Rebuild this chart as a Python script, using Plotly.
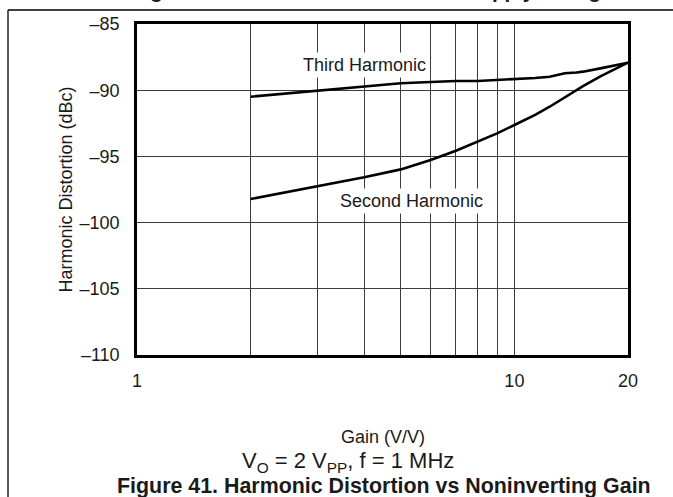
import math
import plotly.graph_objects as go

# Closed-loop gain (V/V) and measured distortion (dBc)
gain = [2, 3, 4, 5, 6, 7, 8, 9, 10, 11.35, 12.4, 13.6, 14.6, 15.2, 16.9, 20]
third_harmonic = [-90.49, -90.04, -89.73, -89.48, -89.38, -89.30, -89.30, -89.23,
                  -89.18, -89.08, -88.98, -88.72, -88.66, -88.60, -88.35, -87.92]
second_harmonic = [-98.22, -97.24, -96.58, -95.98, -95.27, -94.57, -93.89, -93.26,
                   -92.63, -91.87, -91.25, -90.55, -89.98, -89.70, -88.95, -87.92]

x_tickvals = [1, 10, 20]
x_ticktext = ["1", "10", "20"]
x_gridvals = [2, 3, 4, 5, 6, 7, 8, 9, 10]
y_tickvals = [-110, -105, -100, -95, -90, -85]
y_ticktext = ["\u2013110", "\u2013105", "\u2013100", "\u201395", "\u201390", "\u201385"]

FONT = "Liberation Sans, Arial, sans-serif"
INK = "#1a1a1a"
GRID = "#3c3c3c"

fig = go.Figure()
fig.add_trace(go.Scatter(x=gain, y=third_harmonic, mode="lines",
                         line=dict(color="black", width=2.6), name="Third Harmonic"))
fig.add_trace(go.Scatter(x=gain, y=second_harmonic, mode="lines",
                         line=dict(color="black", width=2.6), name="Second Harmonic"))

W, H = 673, 497
L, R, T, B = 137, 45, 24, 142
PW, PH = W - L - R, H - T - B


def px_x(p):
    return (p - L) / PW


def px_y(p):
    return 1 - (p - T) / PH


fig.update_layout(
    width=W, height=H,
    margin=dict(l=L, r=R, t=T, b=B, pad=0),
    paper_bgcolor="white", plot_bgcolor="white",
    showlegend=False,
    font=dict(family=FONT, size=18, color=INK),
)
fig.update_xaxes(
    type="log", range=[0, math.log10(20)],
    tickmode="array", tickvals=x_tickvals, ticktext=x_ticktext,
    ticks="", ticklabelstandoff=8,
    showgrid=False,
    minor=dict(tickmode="array", tickvals=x_gridvals, showgrid=True,
               gridcolor=GRID, gridwidth=1, ticks=""),
    showline=True, linecolor="black", linewidth=2.6, mirror=True,
    zeroline=False, tickfont=dict(size=18, color=INK),
)
fig.update_yaxes(
    range=[-110, -85],
    tickmode="array", tickvals=y_tickvals, ticktext=y_ticktext,
    ticks="", ticklabelstandoff=11,
    showgrid=True, gridcolor=GRID, gridwidth=1,
    showline=True, linecolor="black", linewidth=2.6, mirror=True,
    zeroline=False, tickfont=dict(size=18, color=INK),
)

annotations = [
    # curve labels
    dict(x=math.log10(4.0), y=-88.1, xref="x", yref="y", text="Third Harmonic",
         showarrow=False, bgcolor="white", borderpad=2, font=dict(size=18, color=INK)),
    dict(x=math.log10(5.35), y=-98.37, xref="x", yref="y", text="Second Harmonic",
         showarrow=False, bgcolor="white", borderpad=2, font=dict(size=18, color=INK)),
    # axis titles
    dict(x=0.5, y=px_y(437), xref="paper", yref="paper", text="Gain (V/V)",
         showarrow=False, yanchor="middle", font=dict(size=18, color=INK)),
    dict(x=px_x(65), y=0.5, xref="paper", yref="paper", text="Harmonic Distortion (dBc)",
         showarrow=False, textangle=-90, xanchor="center", yanchor="middle",
         font=dict(size=18, color=INK)),
    # test conditions
    dict(x=px_x(348), y=px_y(461.5), xref="paper", yref="paper",
         text="V<sub>O</sub> = 2 V<sub>PP</sub>, f = 1 MHz", borderpad=0,
         showarrow=False, xanchor="center", yanchor="middle", font=dict(size=22, color=INK)),
    # figure captions
    dict(x=px_x(383.5), y=px_y(486), xref="paper", yref="paper",
         text="<b>Figure 41. Harmonic Distortion vs Noninverting Gain</b>", borderpad=0,
         showarrow=False, xanchor="center", yanchor="middle", font=dict(size=21.4, color=INK)),
    dict(x=px_x(372), y=px_y(4), xref="paper", yref="paper",
         text="<b>Figure 40. Harmonic Distortion vs Supply Voltage</b>",
         showarrow=False, xanchor="center", yanchor="bottom", font=dict(size=20.5, color=INK)),
]
fig.update_layout(annotations=annotations)

# page frame: rule under the previous caption and left margin rule
fig.add_shape(type="line", xref="paper", yref="paper",
              x0=px_x(8), x1=px_x(W + 5), y0=px_y(10), y1=px_y(10),
              line=dict(color="black", width=1.3))
fig.add_shape(type="line", xref="paper", yref="paper",
              x0=px_x(8), x1=px_x(8), y0=px_y(10), y1=px_y(H + 5),
              line=dict(color="black", width=1.3))

fig.write_html("out.html")
